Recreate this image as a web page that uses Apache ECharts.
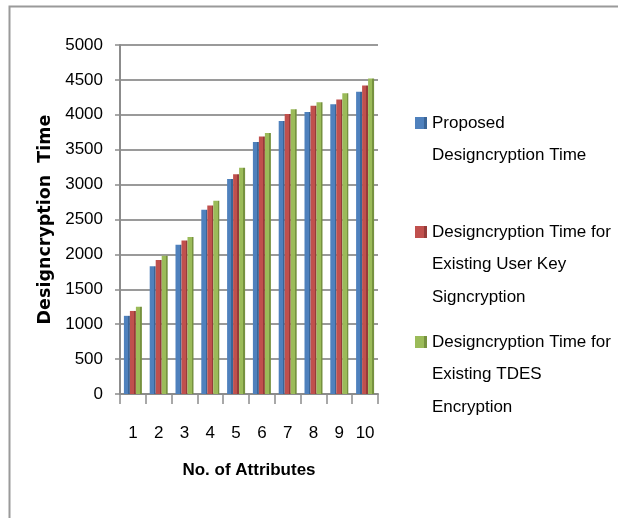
<!DOCTYPE html>
<html>
<head>
<meta charset="utf-8">
<script src="https://cdn.jsdelivr.net/npm/echarts@6/dist/echarts.min.js"></script>
<style>
  html, body { margin: 0; padding: 0; background: #fff; }
  #chart { width: 618px; height: 518px; }
</style>
</head>
<body>
<div id="chart"></div>
<script>
// Category labels (number of attributes)
const attributes = ['1', '2', '3', '4', '5', '6', '7', '8', '9', '10'];

// Series names
const nameProposed = 'Proposed Designcryption Time';
const nameUserKey = 'Designcryption Time for Existing User Key Signcryption';
const nameTdes = 'Designcryption Time for Existing TDES Encryption';

// Designcryption times per series
const proposedTime = [1120, 1830, 2140, 2640, 3080, 3610, 3910, 4040, 4150, 4330];
const userKeyTime  = [1190, 1920, 2200, 2700, 3150, 3690, 4010, 4130, 4220, 4420];
const tdesTime     = [1250, 1980, 2250, 2770, 3240, 3740, 4080, 4180, 4310, 4520];

// Value axis range
const yMin = 0, yMax = 5000, yStep = 500;

// Legend text, broken onto lines as drawn
const legendLines = {};
legendLines[nameProposed] = ['Proposed', 'Designcryption Time'];
legendLines[nameUserKey] = ['Designcryption Time for', 'Existing User Key', 'Signcryption'];
legendLines[nameTdes] = ['Designcryption Time for', 'Existing TDES', 'Encryption'];

const FONT = "'Liberation Sans', Arial, sans-serif";

// Face colour plus darker side colour, giving the columns some depth
function shaded(base, side) {
  return {
    type: 'linear', x: 0, y: 0, x2: 1, y2: 0,
    colorStops: [
      { offset: 0, color: base },
      { offset: 0.72, color: base },
      { offset: 0.73, color: side },
      { offset: 1, color: side }
    ]
  };
}

const LINE_H = 32.5;

// One legend block per series; blank leading lines keep the swatch on the first text line
function legendFor(name, top) {
  const lines = legendLines[name];
  const pad = new Array(lines.length - 1).fill('');
  return {
    data: [name],
    orient: 'vertical',
    left: 415,
    top: top,
    padding: 0,
    itemWidth: 12,
    itemHeight: 12,
    itemGap: 0,
    icon: 'rect',
    selectedMode: false,
    formatter: () => pad.concat(lines).join('\n'),
    textStyle: { fontFamily: FONT, fontSize: 17, color: '#000', lineHeight: LINE_H, padding: [0, 0, 0, 0] }
  };
}

const chart = echarts.init(document.getElementById('chart'), null, { renderer: 'canvas' });

chart.setOption({
  backgroundColor: '#ffffff',
  animation: false,
  graphic: [
    // Outer chart frame (top and left edges)
    { type: 'polyline', shape: { points: [[9.5, 518], [9.5, 6.5], [618, 6.5]] },
      style: { stroke: '#9a9a9a', lineWidth: 2, fill: null } }
  ],
  legend: [
    legendFor(nameProposed, 123 - 1.5 * LINE_H),
    legendFor(nameUserKey, 232 - 2.5 * LINE_H),
    legendFor(nameTdes, 342 - 2.5 * LINE_H)
  ],
  grid: { left: 120, right: 240, top: 45, bottom: 124, containLabel: false },
  xAxis: {
    type: 'category',
    data: attributes,
    name: 'No. of Attributes',
    nameLocation: 'middle',
    nameGap: 68,
    nameTextStyle: { fontFamily: FONT, fontSize: 17, fontWeight: 'bold', color: '#000' },
    axisLine: { show: true, lineStyle: { color: '#8c8c8c', width: 2 } },
    axisTick: { show: true, interval: 0, length: 10, lineStyle: { color: '#8c8c8c', width: 1.5 } },
    axisLabel: { interval: 0, fontFamily: FONT, fontSize: 17, color: '#000', margin: 31 },
    splitLine: { show: false }
  },
  yAxis: {
    type: 'value',
    min: yMin, max: yMax, interval: yStep,
    name: 'Designcryption  Time',
    nameLocation: 'middle',
    nameRotate: 90,
    nameGap: 66,
    nameTextStyle: { fontFamily: "'DejaVu Sans', sans-serif", fontSize: 17.5, fontWeight: 'bold', color: '#000' },
    axisLine: { show: true, lineStyle: { color: '#8c8c8c', width: 2 } },
    axisTick: { show: true, length: 5, lineStyle: { color: '#8c8c8c', width: 1.5 } },
    axisLabel: { fontFamily: FONT, fontSize: 17, color: '#000', margin: 17, formatter: v => String(v) },
    splitLine: { show: true, lineStyle: { color: '#9a9a9a', width: 2 } }
  },
  series: [
    { name: nameProposed, type: 'bar', data: proposedTime, barWidth: 6, barGap: '0%',
      itemStyle: { color: shaded('#4F81BD', '#3A6597') } },
    { name: nameUserKey, type: 'bar', data: userKeyTime, barWidth: 6, barGap: '0%',
      itemStyle: { color: shaded('#C0504D', '#953B39') } },
    { name: nameTdes, type: 'bar', data: tdesTime, barWidth: 6, barGap: '0%',
      itemStyle: { color: shaded('#9BBB59', '#76923F') } }
  ]
});
</script>
</body>
</html>
